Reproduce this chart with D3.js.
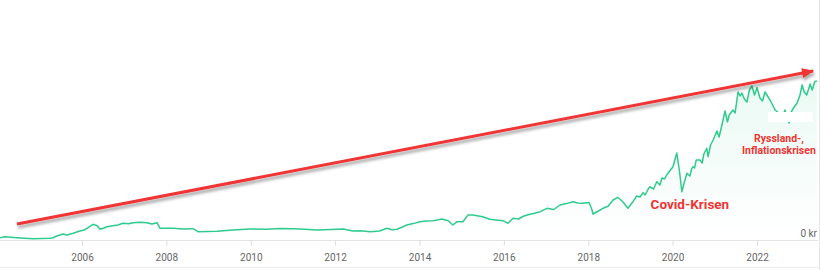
<!DOCTYPE html>
<html>
<head>
<meta charset="utf-8">
<script src="https://cdn.jsdelivr.net/npm/d3@7"></script>
<style>
  html, body { margin: 0; padding: 0; background: #fff; }
  svg { display: block; }
</style>
</head>
<body>
<svg id="chart" width="820" height="270"></svg>
<script>
// ---- data (decimal year, value) ----
const years = [2004.06,2004.17,2004.46,2004.84,2005.24,2005.31,2005.40,2005.55,2005.64,2005.79,2005.95,
  2006.05,2006.12,2006.26,2006.36,2006.43,2006.52,2006.59,2006.73,2006.85,2006.97,2007.10,2007.21,2007.38,2007.54,2007.66,2007.78,2007.85,
  2008.16,2008.40,2008.63,2008.75,2009.20,2009.58,2009.98,2010.38,2010.70,2011.00,2011.17,2011.57,2011.90,2012.19,2012.42,
  2012.60,2012.83,2013.05,2013.23,2013.35,2013.47,2013.70,2013.85,2014.01,2014.15,2014.32,2014.45,2014.53,2014.68,2014.79,2014.89,2015.03,2015.15,
  2015.27,2015.40,2015.50,2015.67,2015.82,2015.98,2016.10,2016.22,2016.35,2016.45,2016.55,2016.70,2016.86,2017.02,2017.18,2017.33,2017.48,2017.64,2017.75,2017.87,
  2018.02,2018.09,2018.11,2018.22,2018.35,2018.47,2018.59,2018.70,2018.82,2018.94,2019.00,2019.06,2019.15,2019.23,2019.30,2019.35,2019.41,2019.46,
  2019.55,2019.60,2019.63,2019.70,2019.75,2019.81,2019.86,2019.95,2020.01,2020.10,2020.16,2020.22,2020.28,2020.34,2020.41,2020.45,2020.48,2020.52,2020.56,
  2020.65,2020.70,2020.74,2020.81,2020.84,2020.90,2020.96,2021.05,2021.10,2021.14,2021.20,2021.24,2021.30,2021.34,2021.43,2021.48,2021.55,2021.60,2021.64,
  2021.70,2021.76,2021.82,2021.88,2021.94,2022.00,2022.07,2022.13,2022.19,2022.25,2022.31,2022.37,2022.43,2022.49,2022.54,2022.60,2022.66,2022.76,2022.81,2022.88,2022.95,
  2023.02,2023.07,2023.12,2023.18,2023.26,2023.31,2023.37,2023.42];
const values = [2.3,3.3,2.3,1.2,1.7,2.3,4,6,5,6.7,9,
  10,11.7,15.7,14.3,10.7,12,13.3,14.3,15,16.7,16.2,17.3,17.8,17.3,16,17.3,11.7,
  11.7,11,11.3,8.3,8.7,10,11,10.7,11.5,11.3,11,10,10.6,11,9,
  9.2,8.3,9,11.7,10.2,10.7,15,16.4,18.3,19,19.3,20.2,21,19.3,15,18.3,18.3,25,
  25,24,23.3,20.7,20,19.3,16.7,21.7,21,23.5,25,26.5,28.3,31.7,30.5,35,36.4,38.3,37,36.7,
  37.5,30,26,28.5,31.7,33.8,40,42.7,38.3,31.7,35,38.3,44,43,47.3,45,50,53.3,
  51,56,58.3,55,62,61,65,70,73.3,87,70,48.3,58,66.7,64,71,73.3,72,80,
  80,77,86,91.7,83.3,95,100,109,103,110,121,129,118,125,130,127,148,144,147,
  141,138,150,154,145,152.5,142,139,148,144,140,135,130,128,125,120,130,117,128,133,137,
  145,155,148,145,156,150,158.5,159];

const xTickYears = [2006,2008,2010,2012,2014,2016,2018,2020,2022];
const yTickValues = [0];
const yTickLabels = ["0 kr"];

const arrowFrom = [2004.46, 16];
const arrowTo = [2023.33, 169];

const notes = [
  { year: 2020.41, value: 31, text: "Covid-Krisen", size: 13.5 },
  { year: 2022.52, value: 98, text: "Ryssland-,", size: 10.5 },
  { year: 2022.52, value: 86, text: "Inflationskrisen", size: 10.5 }
];
const whiteBox = { y0: 2022.26, y1: 2023.33, v0: 128, v1: 118 };

// ---- helpers ----
const toDate = y => {
  const yr = Math.floor(y);
  const start = new Date(yr, 0, 1), end = new Date(yr + 1, 0, 1);
  return new Date(+start + (y - yr) * (end - start));
};
const data = years.map((y, i) => ({ date: toDate(y), value: values[i] }));

const svg = d3.select("#chart");
const W = 820, H = 270;

const x = d3.scaleTime()
  .domain([new Date(2006, 0, 1), new Date(2022, 0, 1)])
  .range([82, 757]);
const y = d3.scaleLinear().domain([0, 200]).range([240, 40]);

const green = "#2fcb8e";
const red = "#ef3434";

const defs = svg.append("defs");
const grad = defs.append("linearGradient").attr("id", "areaGrad")
  .attr("gradientUnits", "userSpaceOnUse")
  .attr("x1", 0).attr("x2", 0).attr("y1", y(160)).attr("y2", y(0));
grad.append("stop").attr("offset", "0%").attr("stop-color", green).attr("stop-opacity", 0.1);
grad.append("stop").attr("offset", "100%").attr("stop-color", green).attr("stop-opacity", 0);

const shadow = defs.append("filter").attr("id", "shadow")
  .attr("x", "-5%").attr("y", "-50%").attr("width", "110%").attr("height", "200%");
shadow.append("feDropShadow").attr("dx", 1).attr("dy", 3).attr("stdDeviation", 1.6)
  .attr("flood-color", "#000").attr("flood-opacity", 0.35);

defs.append("marker").attr("id", "arrowHead")
  .attr("viewBox", "0 0 12 10").attr("refX", 11).attr("refY", 5)
  .attr("markerUnits", "userSpaceOnUse")
  .attr("markerWidth", 13).attr("markerHeight", 10).attr("orient", "auto")
  .append("path").attr("d", "M0,0 L12,5 L0,10 Z").attr("fill", red);

// frame lines
svg.append("line").attr("x1", 0).attr("x2", W).attr("y1", 267.5).attr("y2", 267.5)
  .attr("stroke", "#ececec");
svg.append("line").attr("x1", 819.5).attr("x2", 819.5).attr("y1", 0).attr("y2", H)
  .attr("stroke", "#e6e6e6");

// baseline grid
svg.append("g").selectAll("line").data(yTickValues).join("line")
  .attr("x1", 0).attr("x2", 818)
  .attr("y1", d => y(d) + 0.5).attr("y2", d => y(d) + 0.5)
  .attr("stroke", "#e3e3e3");

// x axis
const xAxis = d3.axisBottom(x)
  .tickValues(xTickYears.map(v => new Date(v, 0, 1)))
  .tickFormat(d3.timeFormat("%Y"))
  .tickSize(5).tickPadding(8);
const gx = svg.append("g").attr("transform", `translate(0,${y(0) + 0.5})`).call(xAxis);
gx.select(".domain").remove();
gx.selectAll(".tick line").attr("stroke", "#dcdcdc");
gx.selectAll(".tick text").attr("fill", "#666").attr("font-size", 10)
  .attr("font-family", "Roboto, sans-serif");

// y label
svg.append("g").selectAll("text").data(yTickValues).join("text")
  .attr("x", 817).attr("y", d => y(d) - 3)
  .attr("text-anchor", "end")
  .attr("font-family", "Roboto, sans-serif").attr("font-size", 10).attr("fill", "#666")
  .text((d, i) => yTickLabels[i]);

// area + line
svg.append("path").datum(data)
  .attr("fill", "url(#areaGrad)")
  .attr("d", d3.area().x(d => x(d.date)).y0(y(0)).y1(d => y(d.value)));
svg.append("path").datum(data)
  .attr("fill", "none").attr("stroke", green).attr("stroke-width", 1.5)
  .attr("stroke-linejoin", "round")
  .attr("d", d3.line().x(d => x(d.date)).y(d => y(d.value)));

// white box
svg.append("rect")
  .attr("x", x(toDate(whiteBox.y0))).attr("y", y(whiteBox.v0))
  .attr("width", x(toDate(whiteBox.y1)) - x(toDate(whiteBox.y0)))
  .attr("height", y(whiteBox.v1) - y(whiteBox.v0))
  .attr("fill", "#fff");

// arrow
svg.append("line")
  .attr("x1", x(toDate(arrowFrom[0]))).attr("y1", y(arrowFrom[1]))
  .attr("x2", x(toDate(arrowTo[0]))).attr("y2", y(arrowTo[1]))
  .attr("stroke", red).attr("stroke-width", 3)
  .attr("marker-end", "url(#arrowHead)")
  .attr("filter", "url(#shadow)");

// notes
svg.append("g").selectAll("text").data(notes).join("text")
  .attr("x", d => x(toDate(d.year))).attr("y", d => y(d.value))
  .attr("text-anchor", "middle")
  .attr("font-family", "Roboto, sans-serif").attr("font-weight", "bold")
  .attr("font-size", d => d.size).attr("fill", red)
  .text(d => d.text);
</script>
</body>
</html>
